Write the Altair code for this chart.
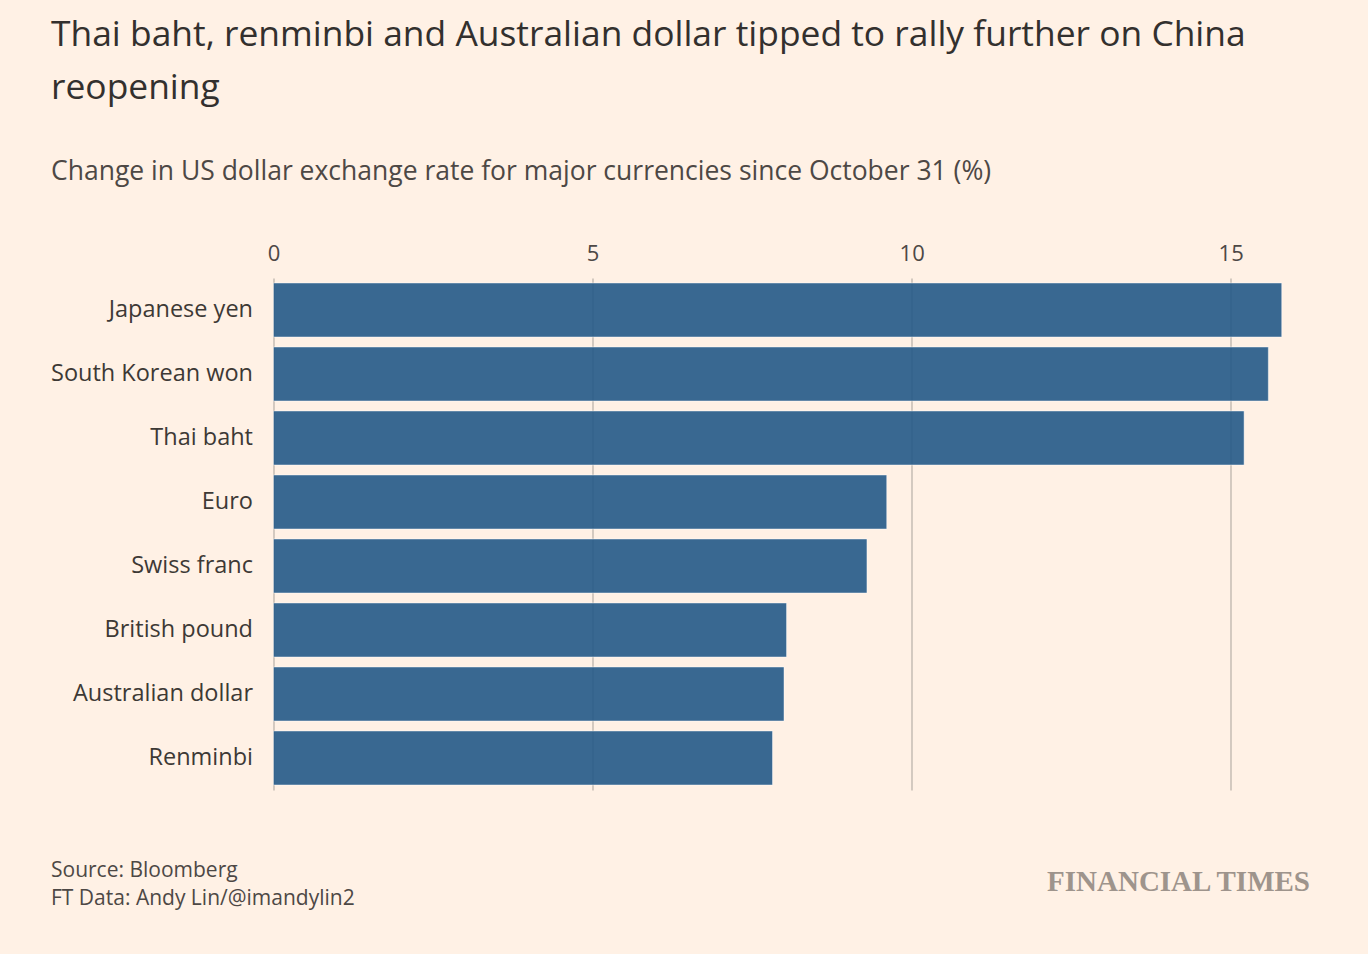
import altair as alt
import pandas as pd
import jinja2

currencies = ["Japanese yen", "South Korean won", "Thai baht", "Euro", "Swiss franc",
              "British pound", "Australian dollar", "Renminbi"]
changes = [15.80, 15.59, 15.21, 9.61, 9.30, 8.04, 8.00, 7.82]
x_ticks = [0, 5, 10, 15]

title_lines = ["Thai baht, renminbi and Australian dollar tipped to rally further on China", "reopening"]
subtitle = "Change in US dollar exchange rate for major currencies since October 31 (%)"
footer_lines = ["Source: Bloomberg", "FT Data: Andy Lin/@imandylin2"]
brand = "FINANCIAL TIMES"

FONT = "Open Sans"
BG = "#FFF1E5"

df = pd.DataFrame({"currency": currencies, "change": changes})

W, H = 1021, 512

bars = alt.Chart(df).mark_bar(
    fill="#235987", fillOpacity=0.9, stroke="#ffffff", strokeOpacity=0.45, strokeWidth=1
).encode(
    x=alt.X("change:Q", scale=alt.Scale(domain=[0, 16], nice=False),
            axis=alt.Axis(orient="top", values=x_ticks, title=None, domain=False, ticks=False,
                          grid=True, gridColor="#c9c0b7", gridWidth=1.6,
                          labelFont=FONT, labelFontSize=22, labelColor="#4d4845",
                          labelPadding=13, labelFlush=False)),
    y=alt.Y("currency:N", sort=currencies,
            scale=alt.Scale(paddingInner=0.156, paddingOuter=0.078),
            axis=alt.Axis(title=None, domain=False, ticks=False, grid=False,
                          labelFont=FONT, labelFontSize=23.5, labelColor="#3d3935",
                          labelPadding=21, labelLimit=400)),
)

foot1 = alt.Chart(pd.DataFrame({"t": [footer_lines[0]]})).mark_text(
    align="left", baseline="alphabetic", font=FONT, fontSize=21, color="#4d4845"
).encode(x=alt.value(-222.5), y=alt.value(599), text="t:N")

foot2 = alt.Chart(pd.DataFrame({"t": [footer_lines[1]]})).mark_text(
    align="left", baseline="alphabetic", font=FONT, fontSize=21, color="#4d4845"
).encode(x=alt.value(-222.5), y=alt.value(627), text="t:N")

brand_mark = alt.Chart(pd.DataFrame({"t": [brand]})).mark_text(
    align="right", baseline="alphabetic", font="Liberation Serif", fontSize=29,
    fontWeight="bold", color="#9e948c"
).encode(x=alt.value(1036.5), y=alt.value(613), text="t:N")

chart = alt.layer(bars, foot1, foot2, brand_mark).properties(
    width=W, height=H,
    autosize=alt.AutoSizeParams(type="none"),
    padding={"left": 265.5, "top": 270, "right": 65, "bottom": 150},
    background=BG,
    title=alt.TitleParams(
        text=title_lines, subtitle=subtitle, anchor="start", frame="group", dx=-222.5,
        font=FONT, fontSize=35.4, fontWeight="normal", color="#33302e", lineHeight=53,
        subtitleFont=FONT, subtitleFontSize=26.5, subtitleColor="#4d4845",
        subtitlePadding=52, offset=57,
    ),
).configure_view(stroke=None)

PAGE_TEMPLATE = jinja2.Template("""<!DOCTYPE html>
<html>
<head>
  <style>
    html, body { background: #FFF1E5; }
    .error { color: red; }
  </style>
  <script type="text/javascript" src="{{ base_url }}/vega@{{ vega_version }}"></script>
  <script type="text/javascript" src="{{ base_url }}/vega-lite@{{ vegalite_version }}"></script>
  <script type="text/javascript" src="{{ base_url }}/vega-embed@{{ vegaembed_version }}"></script>
</head>
<body>
  <div id="{{ output_div }}"></div>
  <script type="text/javascript">
    (function(vegaEmbed) {
      var spec = {{ spec }};
      var embedOpt = {{ embed_options }};
      function showError(el, error){
          el.innerHTML = ('<div class="error" style="color:red;">'
                          + '<p>JavaScript Error: ' + error.message + '</p>'
                          + '</div>');
          throw error;
      }
      const el = document.getElementById('{{ output_div }}');
      vegaEmbed("#{{ output_div }}", spec, embedOpt)
        .catch(error => showError(el, error));
    })(vegaEmbed);
  </script>
</body>
</html>
""")

try:
    chart.save("out.html", embed_options={"renderer": "svg", "actions": False},
               template=PAGE_TEMPLATE)
except Exception:
    chart.save("out.html", embed_options={"renderer": "svg", "actions": False})
